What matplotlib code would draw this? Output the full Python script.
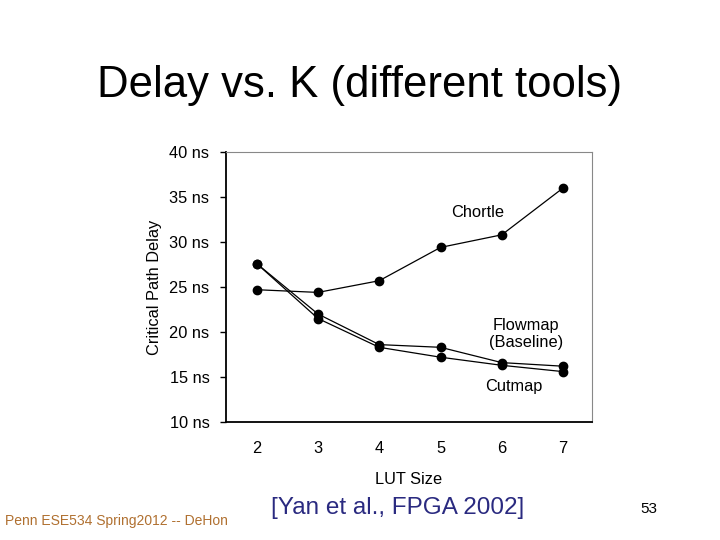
import matplotlib
matplotlib.use("Agg")
import matplotlib.pyplot as plt

plt.rcParams['font.family'] = ['Liberation Sans', 'DejaVu Sans']

# LUT size vs. critical path delay (ns)
lut_size = [2, 3, 4, 5, 6, 7]
chortle = [24.7, 24.4, 25.7, 29.4, 30.8, 36.0]
flowmap = [27.6, 22.0, 18.6, 18.3, 16.6, 16.2]
cutmap = [27.6, 21.5, 18.3, 17.2, 16.3, 15.6]
y_ticks = [10, 15, 20, 25, 30, 35, 40]

fs = 11.8

fig = plt.figure(figsize=(7.2, 5.4), dpi=100)
fig.patch.set_facecolor('white')

ax = fig.add_axes([0.314, 0.2185, 0.508, 0.5])
for series in (chortle, flowmap, cutmap):
	ax.plot(lut_size, series, color='black', lw=0.9, marker='o', ms=6, mfc='black', mec='black')

ax.set_xlim(1.5, 7.47)
ax.set_ylim(10, 40)
ax.set_yticks(y_ticks)
ax.set_yticklabels(['%d ns' % v for v in y_ticks], fontsize=fs)
ax.set_xticks(lut_size)
ax.set_xticklabels([str(v) for v in lut_size], fontsize=fs)
ax.tick_params(axis='x', length=0, pad=14)
ax.tick_params(axis='y', length=4, width=1, direction='out', pad=8)

ax.spines['left'].set_color('black')
ax.spines['left'].set_linewidth(1.3)
ax.spines['bottom'].set_color('black')
ax.spines['bottom'].set_linewidth(1.3)
ax.spines['top'].set_color('#888888')
ax.spines['right'].set_color('#888888')

ax.set_ylabel('Critical Path Delay', fontsize=fs, labelpad=5)
ax.set_xlabel('LUT Size', fontsize=fs, labelpad=11)

ax.text(5.6, 33.3, 'Chortle', fontsize=fs, ha='center', va='center')
ax.text(6.4, 19.8, 'Flowmap\n(Baseline)', fontsize=fs, ha='center', va='center', linespacing=1.15)
ax.text(6.19, 14.0, 'Cutmap', fontsize=fs, ha='center', va='center')

fig.text(0.5, 0.842, 'Delay vs. K (different tools)', fontsize=31.5, ha='center', va='center')
fig.text(0.007, 0.035, 'Penn ESE534 Spring2012 -- DeHon', fontsize=10, color='#b07030', ha='left', va='center')
fig.text(0.552, 0.06, '[Yan et al., FPGA 2002]', fontsize=17.5, color='#2a2a80', ha='center', va='center')
fig.text(0.901, 0.058, '53', fontsize=11, color='black', ha='center', va='center')

fig.savefig('out.png', dpi=100)
